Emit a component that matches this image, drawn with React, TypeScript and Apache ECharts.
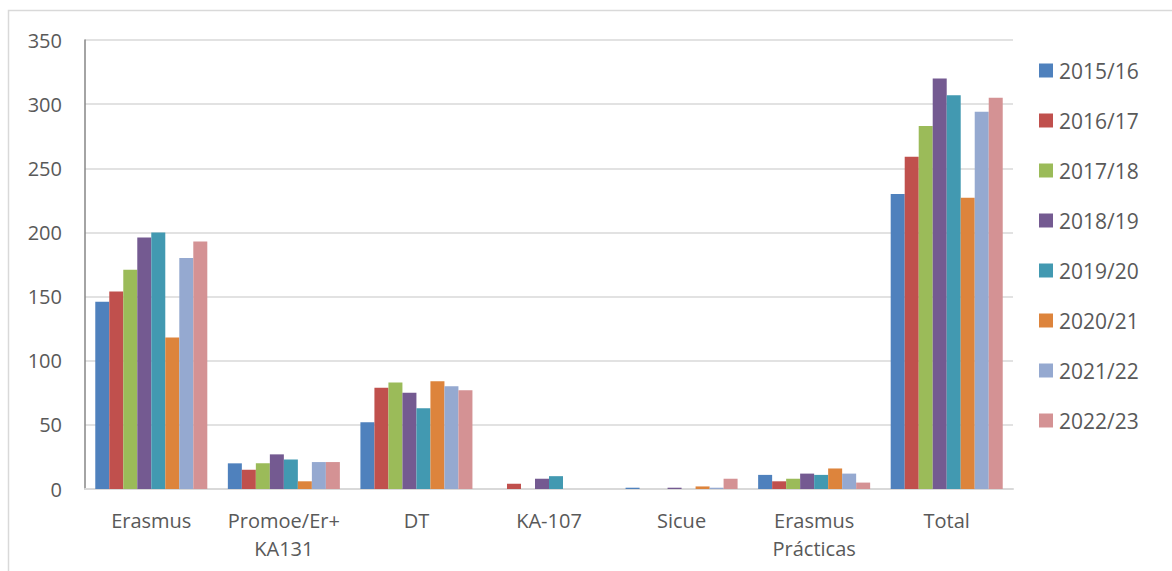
import React, { useEffect, useRef } from "react";
import * as echarts from "echarts";

const categories = ["Erasmus", "Promoe/Er+\nKA131", "DT", "KA-107", "Sicue", "Erasmus\nPrácticas", "Total"];
const seriesNames = ["2015/16", "2016/17", "2017/18", "2018/19", "2019/20", "2020/21", "2021/22", "2022/23"];
const colors = ["#4f81bd", "#c0504d", "#9bbb59", "#745a91", "#4299b1", "#dd843c", "#95a9d0", "#d49294"];

const s2015 = [146, 20, 52, 0, 1, 11, 230];
const s2016 = [154, 15, 79, 4, 0, 6, 259];
const s2017 = [171, 20, 83, 0, 0, 8, 283];
const s2018 = [196, 27, 75, 8, 1, 12, 320];
const s2019 = [200, 23, 63, 10, 0, 11, 307];
const s2020 = [118, 6, 84, 0, 2, 16, 227];
const s2021 = [180, 21, 80, 0, 1, 12, 294];
const s2022 = [193, 21, 77, 0, 8, 5, 305];

const seriesValues = [s2015, s2016, s2017, s2018, s2019, s2020, s2021, s2022];
const yTicks = { min: 0, max: 350, interval: 50 };

export default function App() {
  const ref = useRef<HTMLDivElement>(null);
  useEffect(() => {
    if (!ref.current) return;
    const chart = echarts.init(ref.current, null, { renderer: "svg" });
    const font = "'Open Sans', 'Noto Sans', sans-serif";
    chart.setOption({
      animation: false,
      backgroundColor: "#ffffff",
      color: colors,
      graphic: [
        {
          type: "rect",
          shape: { x: 8.5, y: 10.5, width: 1300, height: 700 },
          style: { fill: "none", stroke: "#d9d9d9", lineWidth: 1.5 },
          silent: true,
          z: -10,
        },
      ],
      grid: { left: 85, top: 40, right: 159, bottom: 82 },
      legend: {
        orient: "vertical",
        left: 1039,
        top: 60,
        padding: 0,
        icon: "rect",
        itemWidth: 14,
        itemHeight: 14,
        itemGap: 29,
        textStyle: { fontFamily: font, fontSize: 21, color: "#595959", lineHeight: 20, padding: [0, 0, 0, 1] },
        data: seriesNames,
      },
      xAxis: {
        type: "category",
        data: categories,
        axisLine: { lineStyle: { color: "#d9d9d9", width: 2 } },
        axisTick: { show: false },
        axisLabel: {
          fontFamily: font,
          fontSize: 20,
          color: "#595959",
          lineHeight: 28,
          margin: 17,
          interval: 0,
        },
      },
      yAxis: {
        type: "value",
        min: yTicks.min,
        max: yTicks.max,
        interval: yTicks.interval,
        axisLine: { show: true, lineStyle: { color: "#868686", width: 1.5 } },
        axisTick: { show: false },
        splitLine: { lineStyle: { color: "#d9d9d9", width: 1.5 } },
        axisLabel: { fontFamily: font, fontSize: 20, color: "#595959", margin: 23 },
      },
      series: seriesNames.map((name, i) => ({
        name,
        type: "bar",
        data: seriesValues[i],
        barGap: "0%",
        barCategoryGap: "15.5%",
        itemStyle: { color: colors[i] },
      })),
    });
    return () => chart.dispose();
  }, []);
  return (
    <div
      ref={ref}
      style={{ position: "absolute", left: 0, top: 0, width: 1172, height: 571 }}
    />
  );
}
